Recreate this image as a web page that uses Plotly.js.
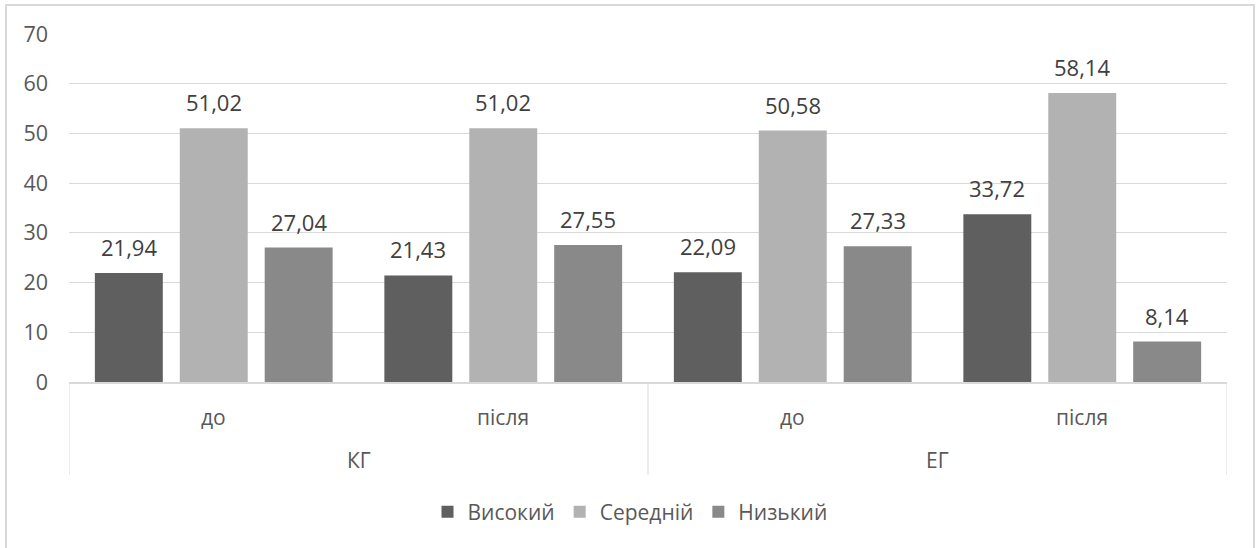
<!DOCTYPE html>
<html>
<head>
<meta charset="utf-8">
<script src="https://cdn.plot.ly/plotly-3.0.1.min.js"></script>
<style>
  html, body { margin: 0; padding: 0; background: #ffffff; }
  #chart { width: 1259px; height: 548px; }
</style>
</head>
<body>
<div id="chart"></div>
<script>
// Groups (outer level) and stages (inner level) of the category axis
const groups = ['КГ', 'КГ', 'ЕГ', 'ЕГ'];
const stages = ['до', 'після', 'до', 'після'];

// Share of participants at each level, %
const seriesNames = ['Високий', 'Середній', 'Низький'];
const high = [21.94, 21.43, 22.09, 33.72];
const medium = [51.02, 51.02, 50.58, 58.14];
const low = [27.04, 27.55, 27.33, 8.14];
const seriesColors = ['#5f5f5f', '#b2b2b2', '#898989'];

const yTicks = [0, 10, 20, 30, 40, 50, 60, 70];

const FONT = '"Open Sans", "Noto Sans", sans-serif';
const TEXT_GREY = '#595959';
const LINE_GREY = '#d9d9d9';

// Category slots sit at 0..n-1 on the x axis
const catPos = stages.map((_, i) => i);
const series = [high, medium, low];

const BARGAP = 0.12;
const BARGROUPGAP = 0.2;

const traces = series.map((vals, k) => ({
  type: 'bar',
  name: seriesNames[k],
  x: catPos,
  y: vals,
  marker: { color: seriesColors[k] },
  hoverinfo: 'skip'
}));

// Pixel helpers for items placed outside the plotting area
const W = 1259, H = 548;
const M = { l: 69, r: 32, t: 34, b: 166 };
const pw = W - M.l - M.r, ph = H - M.t - M.b;
const px2x = p => (p - M.l) / pw;
const px2y = p => (H - M.b - p) / ph;

const fmt = v => v.toFixed(2).replace('.', ',');

// Value labels above each bar, centred on the bar's slot in its group
const slot = (1 - BARGAP) / series.length;
const valueLabels = [];
series.forEach((vals, k) => {
  vals.forEach((v, i) => {
    valueLabels.push({
      xref: 'x', yref: 'y',
      x: catPos[i] + (k - (series.length - 1) / 2) * slot,
      y: v,
      text: fmt(v),
      showarrow: false,
      xanchor: 'center', yanchor: 'bottom',
      yshift: 9,
      font: { family: FONT, size: 22, color: '#404040' }
    });
  });
});

// Two-level category labels
const stageLabels = stages.map((s, i) => ({
  xref: 'x', yref: 'paper',
  x: catPos[i], y: px2y(417),
  text: s, showarrow: false,
  xanchor: 'center', yanchor: 'middle',
  font: { family: FONT, size: 21, color: TEXT_GREY }
}));

const groupNames = [...new Set(groups)];
const groupLabels = groupNames.map(g => {
  const idx = catPos.filter(i => groups[i] === g);
  const mid = (idx[0] + idx[idx.length - 1]) / 2;
  return {
    xref: 'x', yref: 'paper',
    x: mid, y: px2y(460),
    text: g, showarrow: false,
    xanchor: 'center', yanchor: 'middle',
    font: { family: FONT, size: 21, color: TEXT_GREY }
  };
});

// Divider lines between the outer groups and at both ends of the axis
const bounds = [-0.5];
for (let i = 1; i < groups.length; i++) {
  if (groups[i] !== groups[i - 1]) bounds.push(i - 0.5);
}
bounds.push(groups.length - 0.5);
const dividers = bounds.map(b => ({
  type: 'line',
  xref: 'x', yref: 'paper',
  x0: b, x1: b, y0: 0, y1: px2y(475),
  line: { color: LINE_GREY, width: 1 }
}));

const frame = {
  type: 'rect',
  xref: 'paper', yref: 'paper',
  x0: px2x(6), x1: px2x(1254),
  y0: px2y(570), y1: px2y(5),
  line: { color: LINE_GREY, width: 2 },
  fillcolor: 'rgba(0,0,0,0)',
  layer: 'below'
};

const layout = {
  width: W,
  height: H,
  margin: M,
  paper_bgcolor: '#ffffff',
  plot_bgcolor: '#ffffff',
  barmode: 'group',
  bargap: BARGAP,
  bargroupgap: BARGROUPGAP,
  font: { family: FONT, size: 21, color: TEXT_GREY },
  showlegend: true,
  legend: {
    orientation: 'h',
    x: px2x(630), xanchor: 'center',
    y: px2y(512), yanchor: 'middle',
    font: { family: FONT, size: 21, color: TEXT_GREY },
    traceorder: 'normal'
  },
  xaxis: {
    range: [-0.5, stages.length - 0.5],
    showline: true,
    linecolor: LINE_GREY,
    linewidth: 1.5,
    showgrid: false,
    zeroline: false,
    ticks: '',
    showticklabels: false
  },
  yaxis: {
    range: [0, 70],
    tickvals: yTicks,
    ticktext: yTicks.map(String),
    showgrid: true,
    gridcolor: LINE_GREY,
    gridwidth: 1,
    zeroline: false,
    showline: false,
    ticks: '',
    ticklabelstandoff: 20,
    tickfont: { family: FONT, size: 21.5, color: TEXT_GREY }
  },
  annotations: [...valueLabels, ...stageLabels, ...groupLabels],
  shapes: [frame, ...dividers]
};

Plotly.newPlot('chart', traces, layout, { displayModeBar: false, staticPlot: true });
</script>
</body>
</html>
